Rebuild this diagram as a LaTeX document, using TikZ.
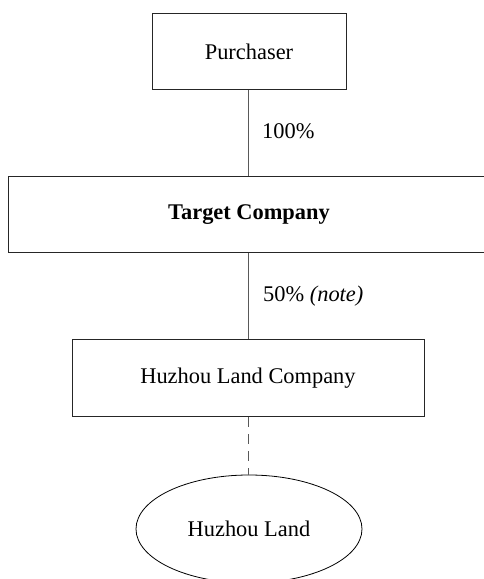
\documentclass[tikz,border=0pt]{standalone}
\usepackage{fontspec}
\setmainfont{Liberation Serif}
\usetikzlibrary{shapes.geometric}
\begin{document}
\begin{tikzpicture}[x=1pt,y=1pt,
  box/.style={draw=black!85, line width=1pt, rectangle, inner sep=0pt, font=\fontsize{22.4}{26}\selectfont},
  oval/.style={draw=black, line width=0.8pt, ellipse, inner sep=0pt, font=\fontsize{22.4}{26}\selectfont},
  link/.style={draw=black!65, line width=1pt},
  pct/.style={anchor=west, inner sep=0pt, font=\fontsize{22.4}{26}\selectfont}]
\useasboundingbox (0,0) rectangle (483,579);
\node[box, minimum width=194pt, minimum height=76pt] (purch) at (249,527) {Purchaser};
\node[box, minimum width=482pt, minimum height=76pt, font=\fontsize{22.4}{26}\selectfont\bfseries] (target) at (249,364) {Target Company};
\node[box, minimum width=352pt, minimum height=77pt] (hlc) at (248,200.5) {Huzhou Land Company};
\node[oval, minimum width=226pt, minimum height=108pt] (land) at (249,50) {Huzhou Land};
\draw[link] (purch.south -| 248,0) -- (target.north -| 248,0);
\draw[link] (target.south -| 248,0) -- (hlc.north -| 248,0);
\draw[link, dash pattern=on 10pt off 7pt] (hlc.south -| 248,0) -- (land.north -| 248,0);
\node[pct] (p1) at (262,448) {100\%};
\node[pct] (p2) at (263,283) {50\% \textit{(note)}};
\end{tikzpicture}
\end{document}
